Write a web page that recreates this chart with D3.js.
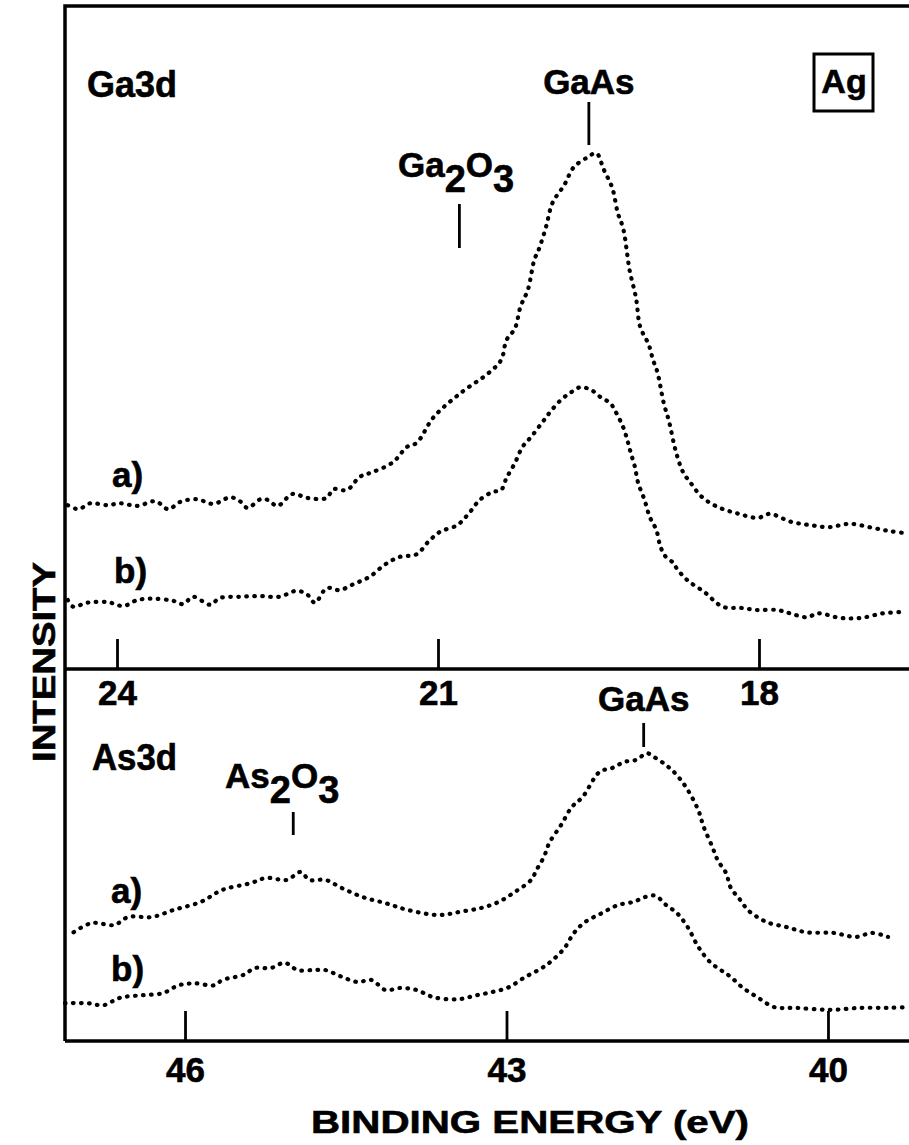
<!DOCTYPE html>
<html>
<head>
<meta charset="utf-8">
<script src="https://cdn.jsdelivr.net/npm/d3@7"></script>
<style>
  body { margin: 0; background: #fff; }
  svg { display: block; background: #fff; }
  text { font-family: "Liberation Sans", Arial, Helvetica, sans-serif; font-weight: bold; fill: #000;
         stroke: #000; stroke-width: 0.6px; }
</style>
</head>
<body>
<svg id="chart"></svg>
<script>
// tick labels (binding energy, eV)
const gaTicks = [24, 21, 18];
const asTicks = [46, 43, 40];

// Ga3d spectra: [binding energy eV, intensity arb. units]
const ga3dA = [
  [24.46,24.7],[24.36,24.1],[24.25,25.0],[24.09,24.7],[23.97,25.0],[23.81,24.6],[23.64,25.3],
  [23.52,24.1],[23.41,25.2],[23.25,25.6],[23.10,24.9],[22.94,25.9],[22.85,25.3],[22.78,24.3],
  [22.66,25.6],[22.59,25.5],[22.50,24.6],[22.36,26.4],[22.22,25.8],[22.04,25.8],[21.98,27.1],
  [21.85,27.0],[21.73,29.0],[21.61,29.7],[21.42,31.2],[21.29,33.5],[21.20,34.1],[21.04,38.0],
  [20.79,41.6],[20.53,44.6],[20.41,46.6],[20.36,49.6],[20.28,51.4],[20.23,54.6],[20.16,57.2],
  [20.10,61.7],[20.06,63.2],[19.99,66.7],[19.93,70.3],[19.82,73.0],[19.73,75.7],[19.60,77.2],
  [19.52,77.8],[19.45,75.3],[19.37,72.5],[19.32,68.8],[19.27,66.5],[19.23,62.4],[19.21,60.2],
  [19.15,56.0],[19.11,51.6],[19.03,48.9],[18.99,46.6],[18.95,44.8],[18.89,40.1],[18.84,37.3],
  [18.78,33.0],[18.71,29.7],[18.64,28.1],[18.53,25.9],[18.38,24.4],[18.21,23.5],[18.01,22.8],
  [17.90,23.4],[17.70,22.2],[17.52,21.7],[17.35,21.4],[17.15,21.9],[16.94,21.3],[16.78,20.8],
  [16.64,20.5]
];
const ga3dB = [
  [24.46,10.4],[24.41,9.4],[24.28,10.0],[24.09,10.1],[23.94,9.5],[23.81,10.4],[23.66,10.6],
  [23.48,10.3],[23.38,9.8],[23.29,10.9],[23.13,9.7],[23.04,10.7],[22.85,10.9],[22.66,11.0],
  [22.48,10.9],[22.32,11.8],[22.22,11.2],[22.15,10.0],[22.04,12.2],[21.92,11.9],[21.79,12.8],
  [21.64,13.9],[21.50,15.7],[21.36,16.9],[21.20,17.3],[21.09,19.2],[20.98,20.7],[20.82,21.7],
  [20.71,23.5],[20.61,25.5],[20.49,26.7],[20.41,27.0],[20.36,28.8],[20.28,31.1],[20.21,33.5],
  [20.13,35.0],[20.03,37.1],[19.95,38.8],[19.85,40.6],[19.75,41.8],[19.67,42.5],[19.57,42.1],
  [19.48,41.0],[19.39,40.1],[19.35,39.1],[19.27,36.5],[19.23,34.5],[19.20,32.7],[19.16,30.5],
  [19.13,28.1],[19.07,25.5],[19.02,22.9],[18.96,21.0],[18.92,18.4],[18.87,16.9],[18.80,16.0],
  [18.77,15.2],[18.67,13.4],[18.51,11.6],[18.34,9.4],[18.16,9.2],[18.02,8.9],[17.83,8.9],
  [17.71,8.4],[17.55,7.8],[17.45,8.4],[17.24,7.7],[17.05,7.7],[16.84,8.4],[16.64,8.6]
];

// As3d spectra: [binding energy eV, intensity arb. units]
const as3dA = [
  [47.04,16.4],[46.87,17.8],[46.66,17.5],[46.53,18.7],[46.31,18.7],[46.10,19.8],[45.85,21.0],
  [45.65,22.8],[45.39,23.8],[45.24,24.6],[45.05,24.3],[44.92,25.5],[44.84,24.3],[44.69,24.3],
  [44.54,23.1],[44.34,21.7],[44.13,20.8],[43.93,19.8],[43.63,19.0],[43.43,19.5],[43.23,20.1],
  [43.07,21.0],[42.92,22.5],[42.77,24.3],[42.72,25.8],[42.65,27.8],[42.60,29.9],[42.49,32.6],
  [42.39,35.3],[42.29,36.8],[42.13,40.6],[42.01,41.2],[41.90,42.1],[41.79,42.4],[41.69,43.4],
  [41.62,42.8],[41.51,41.6],[41.41,40.1],[41.31,37.9],[41.21,34.8],[41.16,32.3],[41.08,29.3],
  [41.03,27.3],[40.95,25.3],[40.91,23.2],[40.82,21.3],[40.75,19.8],[40.65,18.6],[40.55,17.8],
  [40.39,17.2],[40.20,16.4],[39.95,16.3],[39.74,15.7],[39.59,16.3],[39.44,15.7]
];
const as3dB = [
  [47.12,5.7],[46.91,5.7],[46.76,5.4],[46.61,6.5],[46.41,6.9],[46.21,7.2],[46.06,8.4],
  [45.91,8.7],[45.73,8.4],[45.65,9.2],[45.45,10.0],[45.35,11.0],[45.20,11.0],[45.07,11.8],
  [44.95,10.7],[44.80,10.7],[44.69,10.7],[44.54,9.7],[44.39,8.9],[44.26,9.2],[44.13,7.7],
  [43.99,8.0],[43.84,7.7],[43.68,6.6],[43.45,6.3],[43.28,6.9],[43.13,7.4],[42.98,8.1],
  [42.82,9.7],[42.67,11.0],[42.57,12.2],[42.46,14.0],[42.37,16.3],[42.27,17.9],[42.11,19.3],
  [41.96,20.5],[41.81,21.0],[41.71,21.7],[41.61,21.9],[41.51,20.5],[41.41,19.3],[41.31,17.2],
  [41.21,14.2],[41.10,11.9],[41.00,10.7],[40.91,9.7],[40.80,8.1],[40.65,6.5],[40.50,5.1],
  [40.30,5.0],[39.99,4.7],[39.69,5.0],[39.44,5.0],[39.28,5.1]
];

// peak assignments: [label, binding energy eV]
const gaPeaks = [["GaAs", 19.59], ["Ga2O3", 20.80]];
const asPeaks = [["GaAs", 41.72], ["As2O3", 44.99]];

const W = 909, H = 1145;
const frameLeft = 65, frameTop = 6, frameMid = 669, frameBottom = 1041;

const svg = d3.select('#chart').attr('width', W).attr('height', H);

const xGa = d3.scaleLinear().domain([24.486, 16.598]).range([frameLeft, W]);
const xAs = d3.scaleLinear().domain([47.12, 39.244]).range([frameLeft, W]);
const yGa = d3.scaleLinear().domain([0, 100]).range([frameMid, frameTop]);
const yAs = d3.scaleLinear().domain([0, 56.11]).range([frameBottom, frameMid]);

// frame
svg.append('path')
  .attr('d', `M${frameLeft},${frameBottom} V${frameTop} H${W + 10}`)
  .attr('fill', 'none').attr('stroke', '#000').attr('stroke-width', 3.5);
[frameMid, frameBottom].forEach(y => {
  svg.append('line').attr('x1', frameLeft).attr('x2', W + 10).attr('y1', y).attr('y2', y)
    .attr('stroke', '#000').attr('stroke-width', 3.5);
});

function drawAxis(scale, ticks, y, pad) {
  const g = svg.append('g')
    .attr('transform', `translate(0,${y})`)
    .call(d3.axisBottom(scale).tickValues(ticks).tickSizeInner(-30).tickSizeOuter(0)
      .tickPadding(pad).tickFormat(d3.format('d')));
  g.select('.domain').remove();
  g.selectAll('.tick line').attr('stroke', '#000').attr('stroke-width', 2.8);
  g.selectAll('.tick text')
    .attr('font-family', '"Liberation Sans", Arial, sans-serif')
    .attr('font-weight', 'bold').attr('font-size', 35).attr('fill', '#000');
}
drawAxis(xGa, gaTicks, frameMid, 11);
drawAxis(xAs, asTicks, frameBottom, 16);

// spectra drawn as dotted traces
function drawSpectrum(data, x, y) {
  const line = d3.line().x(d => x(d[0])).y(d => y(d[1])).curve(d3.curveCatmullRom.alpha(0.5));
  svg.append('path')
    .datum(data)
    .attr('fill', 'none')
    .attr('stroke', '#000')
    .attr('stroke-width', 4.2)
    .attr('stroke-linecap', 'round')
    .attr('stroke-dasharray', '0.6 7.4')
    .attr('d', line);
}
drawSpectrum(ga3dA, xGa, yGa);
drawSpectrum(ga3dB, xGa, yGa);
drawSpectrum(as3dA, xAs, yAs);
drawSpectrum(as3dB, xAs, yAs);

// text with chemical subscripts
function chemLabel(x, y, formula, anchor) {
  const t = svg.append('text').attr('x', x).attr('y', y).attr('font-size', 35)
    .attr('text-anchor', anchor || 'start');
  let shifted = false;
  formula.split(/(\d)/).filter(s => s).forEach(part => {
    const isSub = /\d/.test(part);
    const sp = t.append('tspan').text(part);
    if (isSub && !shifted) { sp.attr('dy', 15).attr('font-size', 38); shifted = true; }
    else if (!isSub && shifted) { sp.attr('dy', -15); shifted = false; }
    else if (isSub) sp.attr('font-size', 38);
  });
  return t;
}

function marker(x, y1, y2) {
  svg.append('line').attr('x1', x).attr('x2', x).attr('y1', y1).attr('y2', y2)
    .attr('stroke', '#000').attr('stroke-width', 2.8);
}

// Ga3d panel annotations
svg.append('text').attr('x', 87).attr('y', 97).attr('font-size', 37)
  .attr('textLength', 90).attr('lengthAdjust', 'spacingAndGlyphs').text('Ga3d');
chemLabel(xGa(gaPeaks[0][1]), 94, gaPeaks[0][0], 'middle');
marker(xGa(gaPeaks[0][1]), 102, 145);
chemLabel(398, 177, gaPeaks[1][0]);
marker(xGa(gaPeaks[1][1]), 204, 248);

svg.append('rect').attr('x', 814).attr('y', 54).attr('width', 59).attr('height', 57)
  .attr('fill', 'none').attr('stroke', '#000').attr('stroke-width', 3);
svg.append('text').attr('x', 844).attr('y', 93).attr('font-size', 34)
  .attr('text-anchor', 'middle').text('Ag');

svg.append('text').attr('x', 112).attr('y', 487).attr('font-size', 35).text('a)');
svg.append('text').attr('x', 114).attr('y', 583).attr('font-size', 35).text('b)');

// As3d panel annotations
svg.append('text').attr('x', 92).attr('y', 770).attr('font-size', 37)
  .attr('textLength', 85).attr('lengthAdjust', 'spacingAndGlyphs').text('As3d');
chemLabel(xAs(asPeaks[0][1]), 711, asPeaks[0][0], 'middle');
marker(xAs(asPeaks[0][1]), 723, 747);
chemLabel(225, 788, asPeaks[1][0]);
marker(xAs(asPeaks[1][1]), 812, 835);

svg.append('text').attr('x', 111).attr('y', 903).attr('font-size', 35).text('a)');
svg.append('text').attr('x', 111).attr('y', 981).attr('font-size', 35).text('b)');

// axis titles
svg.append('text')
  .attr('transform', 'translate(55,662) rotate(-90)')
  .attr('text-anchor', 'middle').attr('font-size', 32)
  .attr('textLength', 200).attr('lengthAdjust', 'spacingAndGlyphs')
  .text('INTENSITY');
svg.append('text')
  .attr('x', 530).attr('y', 1133)
  .attr('text-anchor', 'middle').attr('font-size', 32)
  .attr('textLength', 438).attr('lengthAdjust', 'spacingAndGlyphs')
  .text('BINDING ENERGY (eV)');
</script>
</body>
</html>
